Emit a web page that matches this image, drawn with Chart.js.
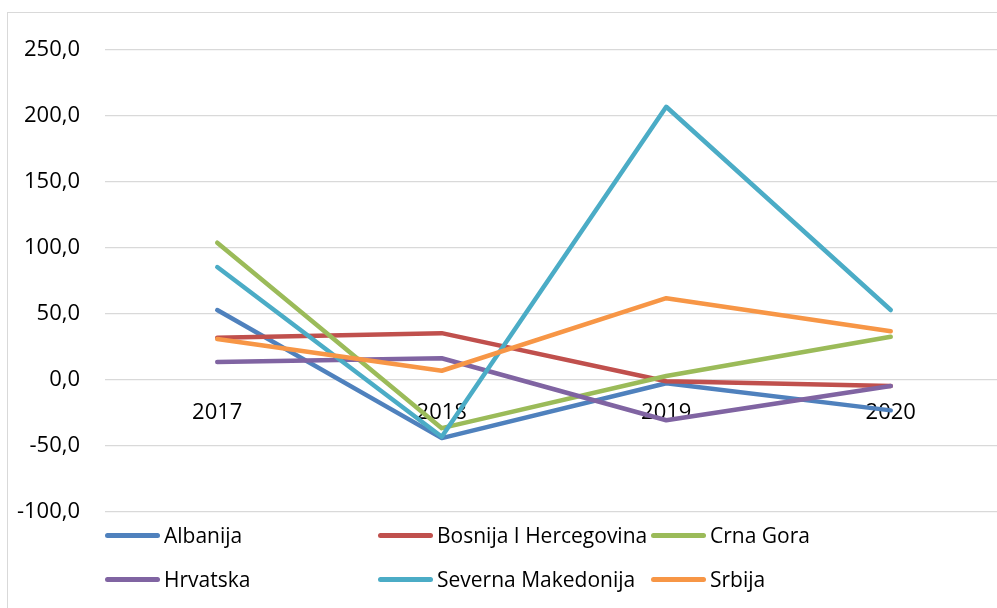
<!DOCTYPE html>
<html lang="sr">
<head>
  <meta charset="UTF-8" />
  <title>Stope rasta 2017-2020</title>
  <script src="https://cdn.jsdelivr.net/npm/chart.js"></script>
  <style>
    html, body { margin: 0; padding: 0; background: #fff; overflow: hidden; }
    #frame { position: absolute; left: 7px; top: 12px; width: 1100px; height: 700px;
             border-left: 1.5px solid #D9D9D9; border-top: 1.5px solid #D9D9D9; }
    #wrap  { position: absolute; left: 0; top: 0; width: 1003px; height: 608px; }
    #legend { position: absolute; left: 0; top: 0; font-family: "Open Sans", sans-serif;
              font-size: 21px; color: #000; }
    .item { position: absolute; display: flex; align-items: center; white-space: nowrap; }
    .swatch { width: 55px; height: 5px; border-radius: 3px; margin-right: 4px; }
  </style>
</head>
<body>
  <div id="frame"></div>
  <div id="wrap"><canvas id="chart"></canvas></div>
  <div id="legend"></div>

<script>
// data -------------------------------------------------------
const years      = ['2017', '2018', '2019', '2020'];
const countries  = ['Albanija', 'Bosnija I Hercegovina', 'Crna Gora',
                    'Hrvatska', 'Severna Makedonija', 'Srbija'];
const albanija   = [53, -44, -2.5, -23];
const bih        = [32, 35.5, -1, -4.5];
const crnaGora   = [104, -36.5, 3, 32.7];
const hrvatska   = [13.7, 16.5, -30.5, -4.6];
const sMakedonija= [85.6, -43, 207, 53];
const srbija     = [31, 7, 62, 37];
const yTicks     = [-100, -50, 0, 50, 100, 150, 200, 250];

const series  = [albanija, bih, crnaGora, hrvatska, sMakedonija, srbija];
const colours = ['#4F81BD', '#C0504D', '#9BBB59', '#8064A2', '#4BACC6', '#F79646'];

const font = { family: '"Open Sans", sans-serif', size: 22 };

// chart ------------------------------------------------------
new Chart(document.getElementById('chart'), {
  type: 'line',
  data: {
    labels: years,
    datasets: series.map((vals, i) => ({
      label: countries[i],
      data: vals,
      borderColor: colours[i],
      backgroundColor: colours[i],
      borderWidth: 4.5,
      borderCapStyle: 'round',
      borderJoinStyle: 'round',
      pointRadius: 0,
      tension: 0,
      order: series.length - i
    }))
  },
  options: {
    responsive: true,
    maintainAspectRatio: false,
    animation: false,
    layout: { padding: { left: 0, right: 0, top: 50, bottom: 96 } },
    plugins: { legend: { display: false }, tooltip: { enabled: false } },
    scales: {
      x: {
        position: { y: 0 },
        offset: true,
        grid: { display: false, drawTicks: false },
        border: { display: false },
        ticks: { color: '#000', font, padding: 20, maxRotation: 0 }
      },
      y: {
        min: yTicks[0],
        max: yTicks[yTicks.length - 1],
        afterFit: s => { s.width = 105; },
        afterBuildTicks: s => { s.ticks = yTicks.map(v => ({ value: v })); },
        grid: { color: '#D9D9D9', lineWidth: 1.3, drawTicks: false },
        border: { display: false },
        ticks: {
          color: '#000', font, padding: 25,
          callback: v => v.toFixed(1).replace('.', ',')
        }
      }
    }
  }
});

// legend (3 columns, 2 rows) --------------------------------
const legend = document.getElementById('legend');
countries.forEach((name, i) => {
  const col = i % 3, row = Math.floor(i / 3);
  const el = document.createElement('div');
  el.className = 'item';
  el.style.left = (105 + col * 273) + 'px';
  el.style.top  = (535 + row * 44 - 15) + 'px';
  el.style.height = '30px';
  el.innerHTML = `<span class="swatch" style="background:${colours[i]}"></span>${name}`;
  legend.appendChild(el);
});
</script>
</body>
</html>
